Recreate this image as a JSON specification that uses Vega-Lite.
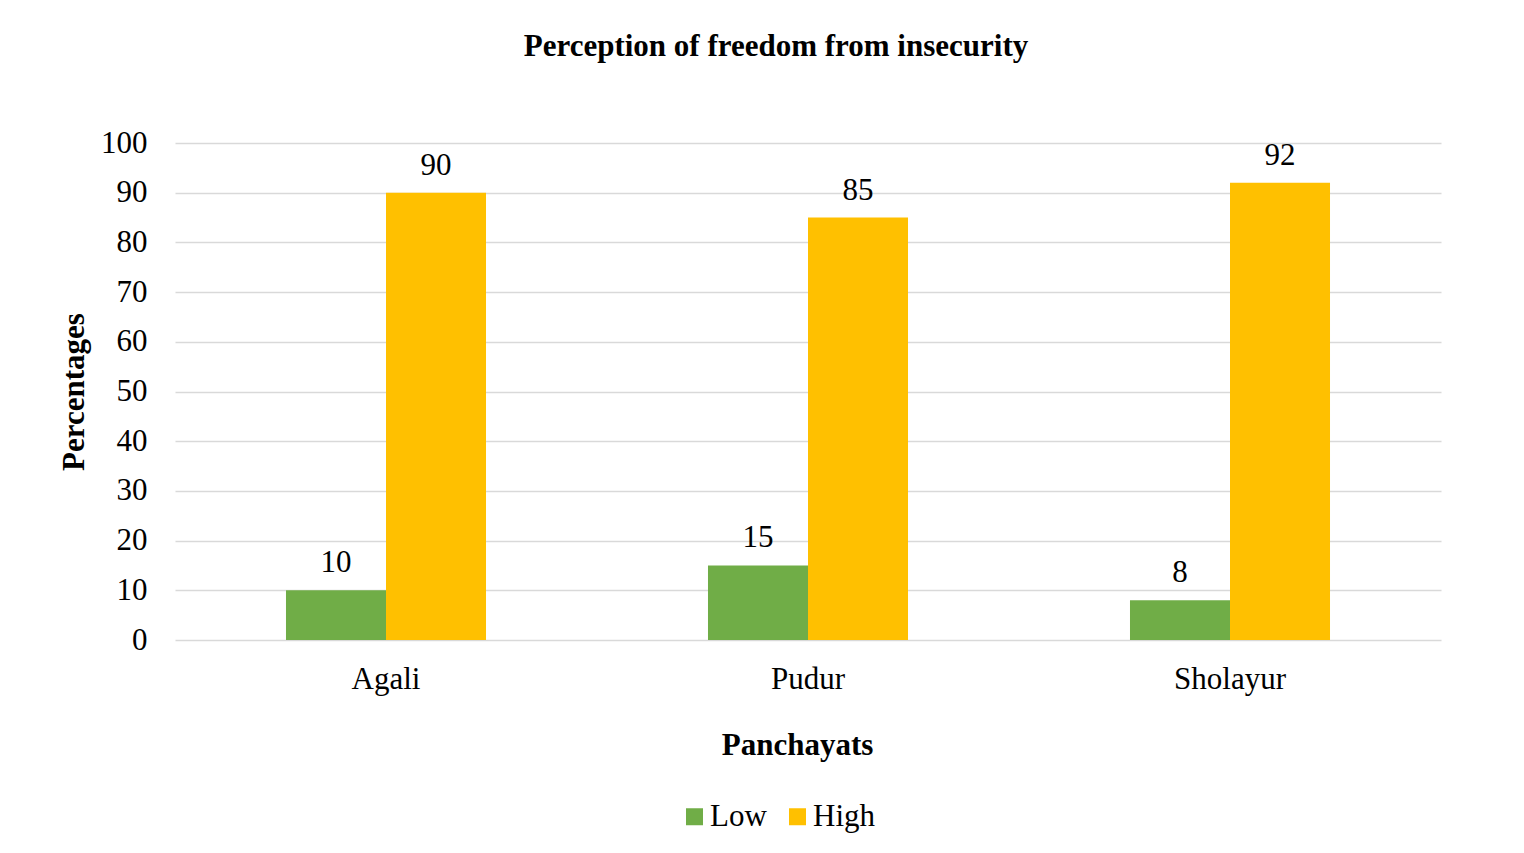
{
  "$schema": "https://vega.github.io/schema/vega-lite/v6.json",
  "autosize": {"type": "none"},
  "width": 1266,
  "height": 497,
  "padding": {"left": 175, "top": 143, "right": 83, "bottom": 213},
  "background": "white",
  "title": {
    "text": "Perception of freedom from insecurity",
    "font": "Liberation Serif",
    "fontSize": 31,
    "fontWeight": "bold",
    "color": "black",
    "anchor": "middle",
    "dx": -32,
    "offset": 64
  },
  "data": {
    "values": [
      {"Panchayat": "Agali", "Level": "Low", "Value": 10},
      {"Panchayat": "Agali", "Level": "High", "Value": 90},
      {"Panchayat": "Pudur", "Level": "Low", "Value": 15},
      {"Panchayat": "Pudur", "Level": "High", "Value": 85},
      {"Panchayat": "Sholayur", "Level": "Low", "Value": 8},
      {"Panchayat": "Sholayur", "Level": "High", "Value": 92}
    ]
  },
  "encoding": {
    "x": {
      "field": "Panchayat",
      "type": "nominal",
      "sort": ["Agali", "Pudur", "Sholayur"],
      "scale": {"paddingInner": 0.526, "paddingOuter": 0.263},
      "axis": {
        "title": "Panchayats",
        "labelAngle": 0,
        "domain": false,
        "ticks": false,
        "labelPadding": 24,
        "titlePadding": 36,
        "titleX": 622,
        "labelFont": "Liberation Serif",
        "labelFontSize": 31,
        "labelColor": "black",
        "titleFont": "Liberation Serif",
        "titleFontSize": 31,
        "titleFontWeight": "bold",
        "titleColor": "black"
      }
    },
    "xOffset": {
      "field": "Level",
      "type": "nominal",
      "sort": ["Low", "High"],
      "scale": {"paddingInner": 0, "paddingOuter": 0}
    },
    "y": {
      "field": "Value",
      "type": "quantitative",
      "scale": {"domain": [0, 100]},
      "axis": {
        "title": "Percentages",
        "values": [0, 10, 20, 30, 40, 50, 60, 70, 80, 90, 100],
        "domain": false,
        "ticks": false,
        "gridColor": "#D9D9D9",
        "gridWidth": 1.5,
        "labelPadding": 28,
        "titlePadding": 10,
        "labelFont": "Liberation Serif",
        "labelFontSize": 31,
        "labelColor": "black",
        "titleFont": "Liberation Serif",
        "titleFontSize": 31,
        "titleFontWeight": "bold",
        "titleColor": "black"
      }
    }
  },
  "layer": [
    {
      "mark": {"type": "bar"},
      "encoding": {
        "color": {
          "field": "Level",
          "type": "nominal",
          "scale": {"domain": ["Low", "High"], "range": ["#70AD47", "#FFC000"]},
          "legend": {
            "title": null,
            "orient": "none",
            "direction": "horizontal",
            "legendX": 504,
            "legendY": 658,
            "padding": 0,
            "symbolType": "square",
            "symbolSize": 289,
            "symbolStrokeWidth": 0,
            "labelFont": "Liberation Serif",
            "labelFontSize": 31,
            "labelColor": "black",
            "labelOffset": 0,
            "columnPadding": 15
          }
        }
      }
    },
    {
      "mark": {
        "type": "text",
        "baseline": "alphabetic",
        "dy": -18,
        "font": "Liberation Serif",
        "fontSize": 31,
        "color": "black"
      },
      "encoding": {
        "text": {"field": "Value", "type": "quantitative"}
      }
    }
  ],
  "config": {
    "view": {"stroke": null}
  }
}
